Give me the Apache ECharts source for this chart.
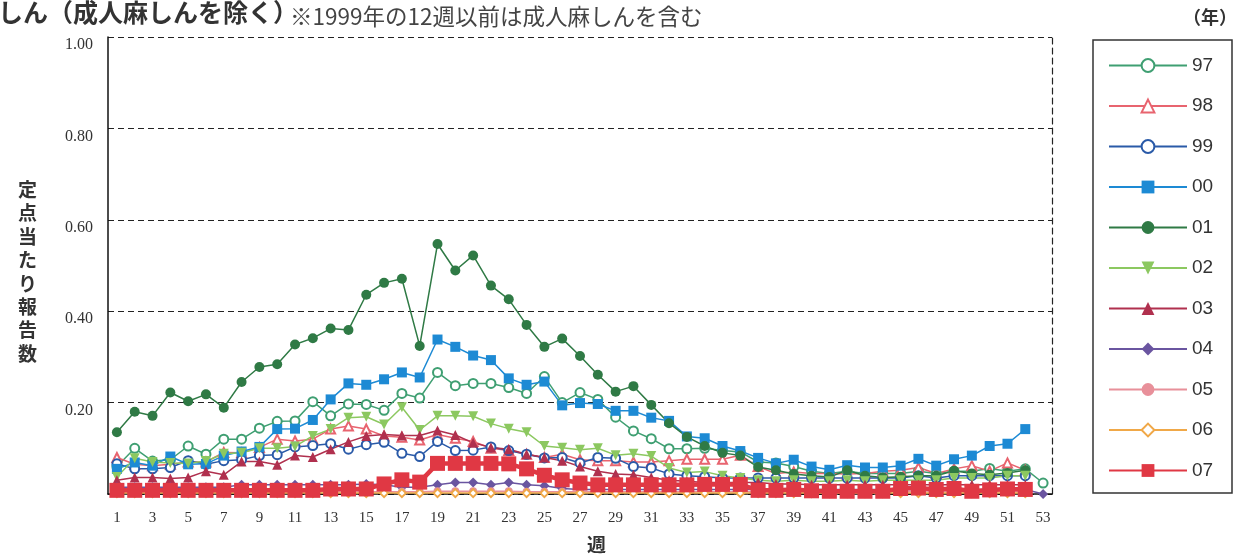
<!DOCTYPE html>
<html lang="ja">
<head>
<meta charset="UTF-8">
<title>麻しん 定点当たり報告数</title>
<script src="https://cdn.jsdelivr.net/npm/echarts@6/dist/echarts.min.js"></script>
<style>
  body { margin: 0; background: #fff; }
  #chart { width: 1241px; height: 557px; }
</style>
</head>
<body>
<div id="chart"></div>
<script>
// 週 (1〜53)
var weeks = ['1','2','3','4','5','6','7','8','9','10','11','12','13','14','15','16','17','18','19','20',
  '21','22','23','24','25','26','27','28','29','30','31','32','33','34','35','36','37','38','39','40',
  '41','42','43','44','45','46','47','48','49','50','51','52','53'];

// 年別の定点当たり報告数
var y97 = [0.060,0.100,0.072,0.075,0.105,0.087,0.120,0.120,0.144,0.159,0.160,0.202,0.171,0.197,0.196,0.183,0.220,0.210,0.266,0.237,
  0.242,0.242,0.233,0.220,0.257,0.200,0.222,0.207,0.168,0.138,0.121,0.099,0.099,0.100,0.095,0.092,0.070,0.068,0.060,0.050,
  0.045,0.050,0.045,0.045,0.045,0.050,0.045,0.050,0.050,0.056,0.050,0.055,0.024];
var y98 = [0.080,0.065,0.062,0.065,0.070,0.070,0.091,0.090,0.102,0.120,0.116,0.120,0.142,0.149,0.142,0.127,0.124,0.118,0.130,0.122,
  0.115,0.100,0.095,0.087,0.080,0.087,0.075,0.073,0.073,0.070,0.070,0.073,0.076,0.076,0.076,0.085,0.060,0.045,0.048,0.045,
  0.045,0.044,0.045,0.050,0.052,0.058,0.045,0.055,0.062,0.050,0.068,0.052,null];
var y99 = [0.066,0.055,0.055,0.058,0.073,0.065,0.073,0.075,0.084,0.086,0.103,0.106,0.110,0.098,0.108,0.113,0.089,0.082,0.115,0.095,
  0.096,0.103,0.095,0.087,0.079,0.080,0.068,0.080,0.078,0.060,0.057,0.044,0.040,0.038,0.035,0.035,0.035,0.035,0.035,0.035,
  0.035,0.035,0.035,0.035,0.035,0.040,0.035,0.040,0.040,0.040,0.040,0.040,null];
var y00 = [0.055,0.069,0.062,0.082,0.065,0.066,0.084,0.093,0.103,0.142,0.143,0.162,0.207,0.242,0.239,0.251,0.266,0.255,0.338,0.322,
  0.303,0.293,0.253,0.239,0.246,0.194,0.199,0.197,0.182,0.182,0.167,0.160,0.126,0.122,0.105,0.094,0.079,0.067,0.075,0.060,
  0.053,0.063,0.058,0.058,0.062,0.077,0.062,0.076,0.084,0.105,0.110,0.142,null];
var y01 = [0.135,0.180,0.171,0.222,0.203,0.218,0.189,0.245,0.278,0.284,0.327,0.341,0.362,0.359,0.436,0.462,0.471,0.324,0.547,0.489,
  0.522,0.456,0.426,0.370,0.322,0.340,0.302,0.261,0.224,0.236,0.195,0.155,0.125,0.105,0.090,0.084,0.059,0.052,0.044,0.040,
  0.037,0.052,0.040,0.036,0.038,0.040,0.040,0.051,0.045,0.042,0.046,0.052,null];
var y02 = [0.037,0.078,0.070,0.068,0.067,0.072,0.088,0.090,0.100,0.100,0.104,0.127,0.142,0.167,0.169,0.152,0.190,0.140,0.171,0.171,
  0.170,0.154,0.143,0.135,0.105,0.101,0.097,0.100,0.085,0.088,0.083,0.057,0.047,0.049,0.040,0.035,0.030,0.028,0.030,0.028,
  0.028,0.030,0.028,0.030,0.030,0.030,0.030,0.035,0.035,0.035,0.040,0.040,null];
var y03 = [0.030,0.036,0.036,0.034,0.036,0.050,0.042,0.071,0.071,0.064,0.084,0.081,0.098,0.114,0.127,0.130,0.128,0.128,0.139,0.129,
  0.112,0.102,0.098,0.087,0.080,0.073,0.060,0.050,0.044,0.042,0.036,0.030,0.028,0.025,0.025,0.025,0.025,0.022,0.022,0.020,
  0.020,0.020,0.020,0.020,0.020,0.020,0.020,0.020,0.020,0.020,0.020,0.020,null];
var y04 = [0.015,0.015,0.015,0.015,0.015,0.015,0.015,0.020,0.020,0.020,0.020,0.020,0.020,0.020,0.022,0.020,0.015,0.015,0.020,0.025,
  0.025,0.020,0.025,0.020,0.018,0.012,0.010,0.010,0.010,0.010,0.010,0.010,0.010,0.010,0.010,0.010,0.010,0.010,0.010,0.010,
  0.010,0.010,0.010,0.010,0.010,0.010,0.010,0.010,0.010,0.010,0.010,0.010,0.000];
var y05 = [0.005,0.005,0.005,0.005,0.005,0.005,0.005,0.005,0.005,0.005,0.005,0.005,0.005,0.005,0.005,0.005,0.005,0.005,0.006,0.006,
  0.006,0.006,0.006,0.005,0.005,0.005,0.005,0.005,0.005,0.005,0.005,0.005,0.005,0.005,0.005,0.005,0.005,0.005,0.005,0.005,
  0.005,0.005,0.005,0.005,0.005,0.005,0.005,0.005,0.005,0.005,0.005,0.005,null];
var y06 = [0.002,0.002,0.002,0.002,0.002,0.002,0.002,0.002,0.002,0.002,0.002,0.002,0.002,0.002,0.002,0.002,0.002,0.002,0.002,0.002,
  0.002,0.002,0.002,0.002,0.002,0.002,0.002,0.002,0.002,0.002,0.002,0.002,0.002,0.002,0.002,0.002,0.002,0.002,0.002,0.002,
  0.002,0.002,0.002,0.002,0.002,0.002,0.002,0.002,0.002,0.002,0.002,0.002,null];
var y07 = [0.008,0.008,0.008,0.008,0.008,0.008,0.008,0.008,0.008,0.008,0.008,0.008,0.011,0.011,0.011,0.022,0.031,0.026,0.067,0.067,
  0.067,0.067,0.066,0.055,0.041,0.031,0.024,0.020,0.020,0.020,0.020,0.020,0.020,0.021,0.021,0.021,0.008,0.008,0.010,0.007,
  0.006,0.006,0.006,0.006,0.012,0.013,0.010,0.012,0.006,0.009,0.011,0.010,null];

var chart = echarts.init(document.getElementById('chart'));

function mk(name, data, color, symbol, size, width) {
  return {
    name: name,
    type: 'line',
    data: data,
    symbol: symbol,
    symbolSize: size,
    showAllSymbol: true,
    connectNulls: false,
    lineStyle: { color: color, width: width || 1.5 },
    itemStyle: { color: color },
    emphasis: { disabled: true }
  };
}

var downTri = 'path://M0,0L10,0L5,9Z';

var option = {
  animation: false,
  backgroundColor: '#fff',
  textStyle: { fontFamily: '"Noto Sans CJK JP", sans-serif' },
  grid: { left: 108, right: 189, top: 37, bottom: 63 },
  legend: {
    orient: 'vertical',
    left: 1103,
    top: 51,
    itemWidth: 78,
    itemHeight: 16,
    itemGap: 21.5,
    selectedMode: false,
    textStyle: { fontFamily: '"Liberation Sans", Arial, sans-serif', fontSize: 19, color: '#333' },
    data: ['97','98','99','00','01','02','03','04','05','06','07']
  },
  xAxis: {
    type: 'category',
    data: weeks,
    boundaryGap: true,
    axisLine: { lineStyle: { color: '#111', width: 1.5 } },
    axisTick: { show: false },
    axisLabel: {
      interval: 1,
      margin: 17,
      fontFamily: '"Liberation Serif", serif',
      fontSize: 15,
      color: '#333'
    },
    splitLine: { show: false }
  },
  yAxis: [{
    type: 'value',
    min: 0, max: 1, interval: 0.2,
    axisLine: { show: true, lineStyle: { color: '#111', width: 1.5 } },
    axisTick: { show: false },
    axisLabel: {
      margin: 15,
      verticalAlign: 'top',
      fontFamily: '"Liberation Serif", serif',
      fontSize: 16,
      color: '#333',
      formatter: function (v) { return v === 0 ? '' : v.toFixed(2); }
    },
    splitLine: { lineStyle: { color: '#222', type: [6, 4], width: 1.2 } }
  }, {
    type: 'value',
    position: 'right',
    min: 0, max: 1, interval: 0.2,
    axisLine: { show: true, lineStyle: { color: '#222', type: [6, 4], width: 1.2 } },
    axisTick: { show: false },
    axisLabel: { show: false },
    splitLine: { show: false }
  }],
  series: [
    mk('97', y97, '#3f9f72', 'emptyCircle', 9),
    mk('98', y98, '#e8646f', 'emptyTriangle', 9),
    mk('99', y99, '#2a5aa8', 'emptyCircle', 9),
    mk('00', y00, '#1d8ad4', 'rect', 10),
    mk('01', y01, '#2f7a45', 'circle', 10),
    mk('02', y02, '#8cc860', downTri, 10),
    mk('03', y03, '#b0304e', 'triangle', 10),
    mk('04', y04, '#6a55a0', 'diamond', 10),
    mk('05', y05, '#e8909a', 'circle', 8),
    mk('06', y06, '#f0a848', 'emptyDiamond', 8),
    mk('07', y07, '#e03844', 'rect', 15, 4.5)
  ],
  graphic: [
    { type: 'text', left: -2, top: 0,
      style: { text: 'しん（成人麻しんを除く）', fontSize: 25, fontWeight: 'bold', fill: '#333',
               fontFamily: '"Noto Sans CJK JP", sans-serif' } },
    { type: 'text', left: 290, top: 5,
      style: { text: '※1999年の12週以前は成人麻しんを含む', fontSize: 22.5, fill: '#444',
               fontFamily: '"Noto Sans CJK JP", sans-serif' } },
    { type: 'text', left: 1183, top: 8,
      style: { text: '（年）', fontSize: 18, fontWeight: 'bold', fill: '#333',
               fontFamily: '"Noto Sans CJK JP", sans-serif' } },
    { type: 'text', left: 18, top: 178,
      style: { text: '定\n点\n当\nた\nり\n報\n告\n数', fontSize: 19, lineHeight: 23.4, fontWeight: 'bold', fill: '#333',
               fontFamily: '"Noto Sans CJK JP", sans-serif' } },
    { type: 'text', left: 587, top: 535,
      style: { text: '週', fontSize: 19, fontWeight: 'bold', fill: '#333',
               fontFamily: '"Noto Sans CJK JP", sans-serif' } },
    { type: 'rect', shape: { x: 1093, y: 40, width: 139, height: 453 },
      style: { fill: 'none', stroke: '#333', lineWidth: 1.5 } }
  ]
};

chart.setOption(option);
</script>
</body>
</html>
